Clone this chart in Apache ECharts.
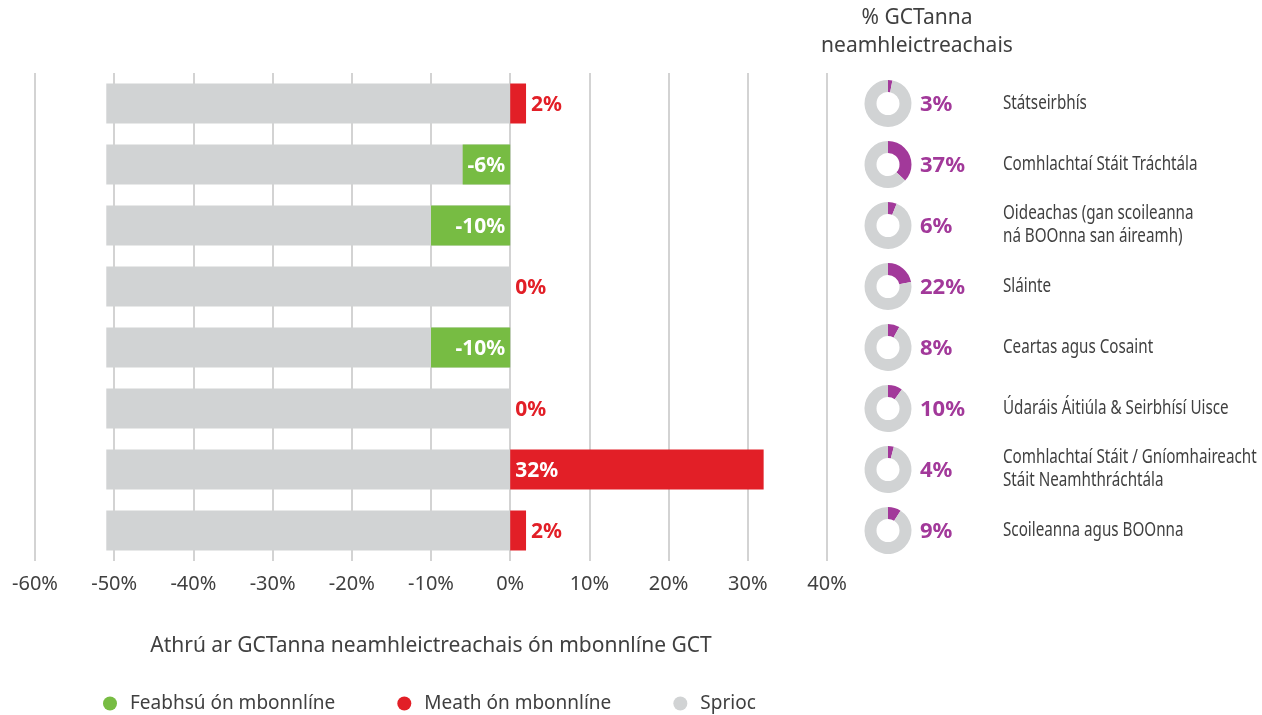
<!DOCTYPE html>
<html>
<head>
<meta charset="utf-8">
<script src="https://cdn.jsdelivr.net/npm/echarts@6/dist/echarts.min.js"></script>
<style>
  html, body { margin: 0; padding: 0; background: #ffffff; }
  #chart { width: 1262px; height: 715px; }
</style>
</head>
<body>
<div id="chart"></div>
<script>
  // earnáil / sectors, top to bottom
  var sectors = [
    'Státseirbhís',
    'Comhlachtaí Stáit Tráchtála',
    'Oideachas (gan scoileanna\nná BOOnna san áireamh)',
    'Sláinte',
    'Ceartas agus Cosaint',
    'Údaráis Áitiúla & Seirbhísí Uisce',
    'Comhlachtaí Stáit / Gníomhaireacht\nStáit Neamhthráchtála',
    'Scoileanna agus BOOnna'
  ]
  // athrú ón mbonnlíne (%)
  var change = [2, -6, -10, 0, -10, 0, 32, 2]
  // sprioc (%)
  var target = [-51, -51, -51, -51, -51, -51, -51, -51]
  // % GCTanna neamhleictreachais
  var share = [3, 37, 6, 22, 8, 10, 4, 9]
  var xTicks = { min: -60, max: 40, step: 10 }

  var GREEN = '#77bc43'
  var RED = '#e21f27'
  var GREY = '#d1d3d4'
  var PURPLE = '#a2399a'
  var TEXT = '#404040'
  var FONT = "'Noto Sans', 'Open Sans', sans-serif"

  var chart = echarts.init(document.getElementById('chart'))

  function valueLabel (v) {
    var lbl = { show: true, fontFamily: FONT, fontWeight: 'bold', fontSize: 21, formatter: v + '%', distance: 5, offset: [0, 2] }
    if (v < 0) {
      lbl.position = 'insideRight'
      lbl.color = '#ffffff'
    } else if (v > 10) {
      lbl.position = 'insideLeft'
      lbl.color = '#ffffff'
    } else {
      lbl.position = 'right'
      lbl.color = RED
    }
    return lbl
  }

  var better = change.map(function (v) {
    return v < 0 ? { value: v, label: valueLabel(v) } : '-'
  })
  var worse = change.map(function (v) {
    return v >= 0 ? { value: v, label: valueLabel(v) } : '-'
  })

  chart.setOption({
    animation: false,
    grid: { left: 35, right: 435, top: 73, height: 488 },
    legend: {
      left: 98,
      bottom: -3,
      icon: 'circle',
      itemWidth: 14,
      itemHeight: 14,
      itemGap: 62,
      textStyle: { fontFamily: FONT, fontSize: 19, color: TEXT, padding: [0, 0, 0, 8] },
      data: ['Feabhsú ón mbonnlíne', 'Meath ón mbonnlíne', 'Sprioc']
    },
    xAxis: {
      type: 'value',
      min: xTicks.min,
      max: xTicks.max,
      interval: xTicks.step,
      axisLine: { show: false },
      axisTick: { show: false },
      axisLabel: { formatter: '{value}%', fontFamily: FONT, fontSize: 20, color: TEXT, margin: 13 },
      splitLine: { lineStyle: { color: '#c4c4c4', width: 1.5 } },
      name: 'Athrú ar GCTanna neamhleictreachais ón mbonnlíne GCT',
      nameLocation: 'middle',
      nameGap: 75,
      nameTextStyle: { fontFamily: FONT, fontSize: 21, color: TEXT }
    },
    yAxis: {
      type: 'category',
      inverse: true,
      data: sectors,
      show: false
    },
    series: [
      {
        name: 'Sprioc',
        type: 'bar',
        data: target,
        barWidth: 40,
        barGap: '-100%',
        itemStyle: { color: GREY },
        silent: true
      },
      {
        name: 'Feabhsú ón mbonnlíne',
        type: 'bar',
        data: better,
        barWidth: 40,
        barGap: '-100%',
        itemStyle: { color: GREEN },
        silent: true
      },
      {
        name: 'Meath ón mbonnlíne',
        type: 'bar',
        data: worse,
        barWidth: 40,
        barGap: '-100%',
        itemStyle: { color: RED },
        silent: true
      }
    ]
  })

  // donuts and text on the right, lined up with the bar rows
  var pieX = 888
  var pies = []
  var texts = []
  sectors.forEach(function (name, i) {
    var y = chart.convertToPixel({ yAxisIndex: 0 }, i)
    pies.push({
      type: 'pie',
      center: [pieX, y],
      radius: [11.5, 23.5],
      startAngle: 90,
      clockwise: true,
      silent: true,
      label: { show: false },
      labelLine: { show: false },
      data: [
        { value: share[i], itemStyle: { color: PURPLE } },
        { value: 100 - share[i], itemStyle: { color: GREY } }
      ]
    })
    texts.push({
      type: 'text',
      x: 920,
      y: y + 1,
      style: { text: share[i] + '%', fontFamily: FONT, fontWeight: 'bold', fontSize: 22, fill: PURPLE, verticalAlign: 'middle' }
    })
    texts.push({
      type: 'text',
      x: 1003,
      y: y,
      scaleX: 0.8,
      style: { text: name, fontFamily: FONT, fontSize: 19, lineHeight: 23, fill: TEXT, verticalAlign: 'middle' }
    })
  })
  texts.push({
    type: 'text',
    x: 917,
    y: 4,
    style: {
      text: '% GCTanna\nneamhleictreachais',
      fontFamily: FONT,
      fontSize: 21,
      lineHeight: 28,
      fill: TEXT,
      align: 'center',
      verticalAlign: 'top'
    }
  })

  chart.setOption({
    series: chart.getOption().series.concat(pies),
    graphic: texts
  })
</script>
</body>
</html>
